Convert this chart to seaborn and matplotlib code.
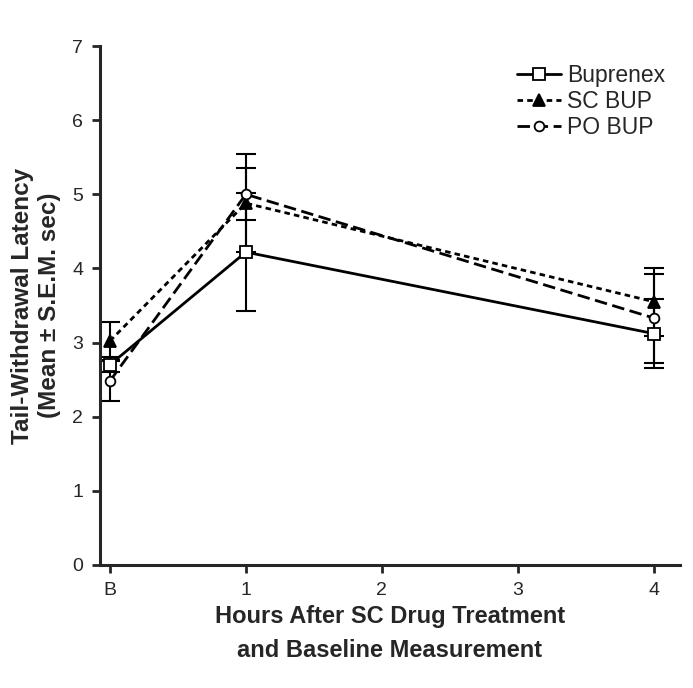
import matplotlib
matplotlib.use("Agg")
import matplotlib.pyplot as plt
import seaborn as sns
import numpy as np
import pandas as pd

# hours after treatment (B = baseline drawn at 0)
hours = [0, 1, 4]
tick_pos = [0, 1, 2, 3, 4]
tick_labels = ["B", "1", "2", "3", "4"]

buprenex = [2.70, 4.22, 3.12]
buprenex_sem = [0.10, 0.80, 0.47]
sc_bup = [3.02, 4.88, 3.55]
sc_bup_sem = [0.26, 0.66, 0.46]
po_bup = [2.48, 5.00, 3.33]
po_bup_sem = [0.27, 0.35, 0.60]

sns.set_style("ticks")
plt.rcParams['font.family'] = ['Liberation Sans', 'DejaVu Sans']

fig = plt.figure(figsize=(6.93, 6.88), dpi=100)
ax = fig.add_axes([0.144, 0.179, 0.837, 0.754])

series = [
    ("Buprenex", buprenex, buprenex_sem, "-", "s", "white", 8.5),
    ("SC BUP", sc_bup, sc_bup_sem, (0, (2, 1.5)), "^", "black", 8),
    ("PO BUP", po_bup, po_bup_sem, (0, (4.5, 2)), "o", "white", 7),
]

for name, vals, sem, ls, mk, mfc, ms in series:
    df = pd.DataFrame({"hour": hours, "latency": vals})
    ax.errorbar(hours, vals, yerr=sem, fmt="none", ecolor="black",
                elinewidth=1.5, capsize=7, capthick=1.5, zorder=2)
    sns.lineplot(data=df, x="hour", y="latency", ax=ax, color="black",
                 linestyle=ls, linewidth=2, marker=mk, markersize=ms,
                 markerfacecolor=mfc, markeredgecolor="black",
                 markeredgewidth=1.3, label=name, zorder=3)

ax.set_xlim(-0.074, 4.19)
ax.set_ylim(0, 7)
ax.set_xticks(tick_pos)
ax.set_xticklabels(tick_labels)
ax.set_yticks(range(0, 8))
ax.tick_params(axis="both", labelsize=14, width=2, length=6, direction="out", pad=6)
for s in ["left", "bottom"]:
    ax.spines[s].set_linewidth(2.2)
sns.despine(ax=ax)

ax.set_xlabel("Hours After SC Drug Treatment\nand Baseline Measurement",
              fontsize=17, fontweight="bold", labelpad=5, linespacing=1.6)
ax.set_ylabel("Tail-Withdrawal Latency\n(Mean \u00b1 S.E.M. sec)",
              fontsize=17.5, fontweight="bold", labelpad=8, linespacing=1.2)

leg = ax.legend(loc="upper left", bbox_to_anchor=(0.72, 0.965), frameon=False,
                fontsize=16.5, handlelength=1.9, handletextpad=0.25,
                labelspacing=0.12, borderpad=0, borderaxespad=0)

fig.savefig("out.png", dpi=100)
